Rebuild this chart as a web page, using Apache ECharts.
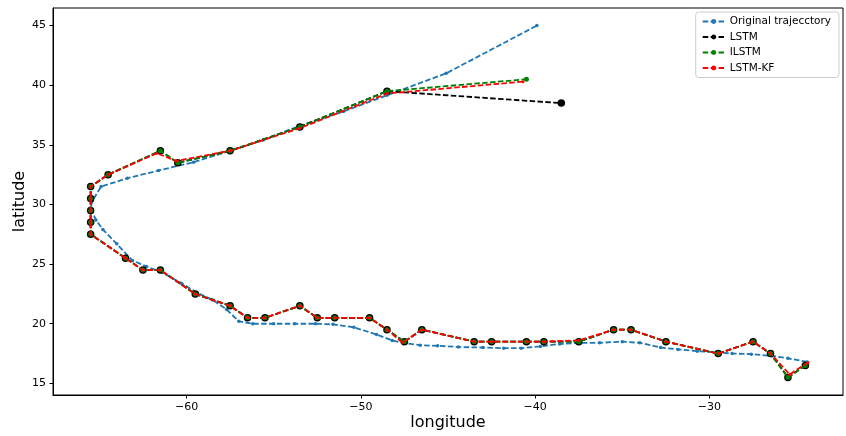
<!DOCTYPE html>
<html>
<head>
<meta charset="utf-8">
<script src="https://cdn.jsdelivr.net/npm/echarts@6/dist/echarts.min.js"></script>
<style>
  html, body { margin: 0; padding: 0; background: #fff; }
  #chart { width: 846px; height: 436px; }
</style>
</head>
<body>
<div id="chart"></div>
<script>
// Observed track (east to west, then recurving north-east)
const origLon = [-24.4, -25.5, -26.4, -27.6, -28.7, -29.5, -30.7, -31.8, -32.8, -34.0, -35.0, -36.3, -37.4, -38.6,
  -39.7, -40.8, -41.8, -43.0, -44.4, -45.6, -46.6, -47.6, -48.2, -49.1, -50.4, -51.6, -52.6, -53.8, -55.0, -56.2,
  -57.0, -57.7, -58.5, -59.4, -60.3, -61.4, -62.3, -63.1, -64.0, -64.8, -65.2, -65.5, -65.4, -64.9, -63.4, -61.6,
  -59.6, -57.5, -55.6, -53.5, -51.0, -48.5, -45.1, -39.9];
const origLat = [16.8, 17.1, 17.3, 17.45, 17.5, 17.6, 17.7, 17.85, 18.0, 18.4, 18.5, 18.4, 18.4, 18.3,
  18.1, 17.95, 17.95, 18.0, 18.05, 18.15, 18.2, 18.4, 18.6, 19.1, 19.7, 19.95, 20.0, 20.0, 20.0, 20.0,
  20.2, 21.2, 22.0, 22.6, 23.4, 24.3, 24.8, 25.3, 26.7, 27.9, 28.7, 29.7, 30.3, 31.5, 32.2, 32.85,
  33.55, 34.5, 35.4, 36.6, 37.8, 39.15, 41.0, 45.0];

// LSTM predictions
const lstmLon = [-24.5, -25.5, -26.5, -27.5, -29.5, -32.5, -34.5, -35.5, -37.5, -39.5, -40.5, -42.5, -43.5,
  -46.5, -47.5, -48.5, -49.5, -51.5, -52.5, -53.5, -55.5, -56.5, -57.5, -59.5, -61.5, -62.5, -63.5,
  -65.5, -65.5, -65.5, -65.5, -65.5, -64.5, -61.5, -60.5, -57.5, -53.5, -48.5, -38.5];
const lstmLat = [16.5, 15.5, 17.5, 18.5, 17.5, 18.5, 19.5, 19.5, 18.5, 18.5, 18.5, 18.5, 18.5,
  19.5, 18.5, 19.5, 20.5, 20.5, 20.5, 21.5, 20.5, 20.5, 21.5, 22.5, 24.5, 24.5, 25.5,
  27.5, 28.5, 29.5, 30.5, 31.5, 32.5, 34.5, 33.5, 34.5, 36.5, 39.5, 38.5];

// ILSTM predictions
const ilstmLon = [-24.5, -25.5, -26.5, -27.5, -29.5, -32.5, -34.5, -35.5, -37.5, -39.5, -40.5, -42.5, -43.5,
  -46.5, -47.5, -48.5, -49.5, -51.5, -52.5, -53.5, -55.5, -56.5, -57.5, -59.5, -61.5, -62.5, -63.5,
  -65.5, -65.5, -65.5, -65.5, -65.5, -64.5, -61.5, -60.5, -57.5, -53.5, -48.5, -40.5];
const ilstmLat = [16.5, 15.5, 17.5, 18.5, 17.5, 18.5, 19.5, 19.5, 18.5, 18.5, 18.5, 18.5, 18.5,
  19.5, 18.5, 19.5, 20.5, 20.5, 20.5, 21.5, 20.5, 20.5, 21.5, 22.5, 24.5, 24.5, 25.5,
  27.5, 28.5, 29.5, 30.5, 31.5, 32.5, 34.5, 33.5, 34.5, 36.5, 39.5, 40.5];

// LSTM-KF predictions
const kfLon = [-24.35, -25.4, -26.5, -27.5, -29.5, -32.5, -34.5, -35.5, -37.5, -39.5, -40.5, -42.5, -43.5,
  -46.5, -47.6, -48.5, -49.5, -51.5, -52.5, -53.5, -55.5, -56.5, -57.5, -59.5, -61.5, -62.5, -63.5,
  -65.5, -65.5, -65.5, -65.5, -65.5, -64.5, -61.7, -60.6, -57.5, -53.5, -48.5, -40.7];
const kfLat = [16.75, 15.75, 17.5, 18.5, 17.5, 18.5, 19.5, 19.5, 18.6, 18.5, 18.5, 18.5, 18.5,
  19.5, 18.4, 19.5, 20.5, 20.5, 20.5, 21.5, 20.5, 20.5, 21.5, 22.5, 24.5, 24.5, 25.5,
  27.5, 28.5, 29.5, 30.5, 31.5, 32.5, 34.3, 33.65, 34.5, 36.4, 39.3, 40.3];

const xTicks = [-60, -50, -40, -30];
const yTicks = [15, 20, 25, 30, 35, 40, 45];

const pairs = (xs, ys) => xs.map((x, i) => [x, ys[i]]);
const FONT = 'DejaVu Sans';
const fmt = v => String(v).replace('-', '\u2212');
const dash = [5.5, 2.4];

function lineSeries(name, lon, lat, color, symSize, z) {
  return {
    name, type: 'line', data: pairs(lon, lat), z,
    symbol: 'circle', symbolSize: symSize, showSymbol: true,
    lineStyle: { color, width: 1.8, type: dash },
    itemStyle: { color, borderColor: color, borderWidth: 0 },
    emphasis: { disabled: true }
  };
}

const chart = echarts.init(document.getElementById('chart'), null, { renderer: 'canvas' });
const lstm = lineSeries('LSTM', lstmLon, lstmLat, '#000000', 7.5, 3);
const ilstm = lineSeries('ILSTM', ilstmLon, ilstmLat, '#008000', 5, 4);
const kf = lineSeries('LSTM-KF', kfLon, kfLat, '#ff0000', 3, 5);
const orig = lineSeries('Original trajecctory', origLon, origLat, '#1f77b4', 3.5, 2);

chart.setOption({
  animation: false,
  backgroundColor: '#ffffff',
  grid: {
    left: 53, right: 3, top: 8, bottom: 41,
    outerBoundsMode: 'none', containLabel: false,
    show: true, borderColor: '#000', borderWidth: 1, backgroundColor: 'transparent'
  },
  legend: {
    orient: 'vertical', right: 7, top: 12,
    data: ['Original trajecctory', 'LSTM', 'ILSTM', 'LSTM-KF'],
    itemWidth: 22, itemHeight: 6, itemGap: 4.5,
    padding: [4, 8, 4, 6],
    borderColor: '#cccccc', borderWidth: 1, borderRadius: 3, backgroundColor: '#fff',
    textStyle: { fontFamily: FONT, fontSize: 10.5, color: '#000' }
  },
  xAxis: {
    type: 'value', min: -67.66, max: -22.34,
    name: 'longitude', nameLocation: 'middle', nameGap: 20, nameMoveOverlap: false,
    nameTextStyle: { fontFamily: FONT, fontSize: 16, color: '#000' },
    axisLine: { show: true, onZero: false, lineStyle: { color: '#000', width: 1 } },
    axisTick: { show: true, length: 3.5, customValues: xTicks, lineStyle: { color: '#000' } },
    axisLabel: { customValues: xTicks, formatter: fmt, fontFamily: FONT, fontSize: 11, color: '#000', margin: 7 },
    splitLine: { show: false }
  },
  yAxis: {
    type: 'value', min: 14.025, max: 46.475,
    name: 'latitude', nameLocation: 'middle', nameGap: 25, nameRotate: 90, nameMoveOverlap: false,
    nameTextStyle: { fontFamily: FONT, fontSize: 16, color: '#000' },
    axisLine: { show: true, onZero: false, lineStyle: { color: '#000', width: 1 } },
    axisTick: { show: true, length: 3.5, customValues: yTicks, lineStyle: { color: '#000' } },
    axisLabel: { customValues: yTicks, formatter: fmt, fontFamily: FONT, fontSize: 11, color: '#000', margin: 7 },
    splitLine: { show: false }
  },
  series: [orig, lstm, ilstm, kf]
});
</script>
</body>
</html>
